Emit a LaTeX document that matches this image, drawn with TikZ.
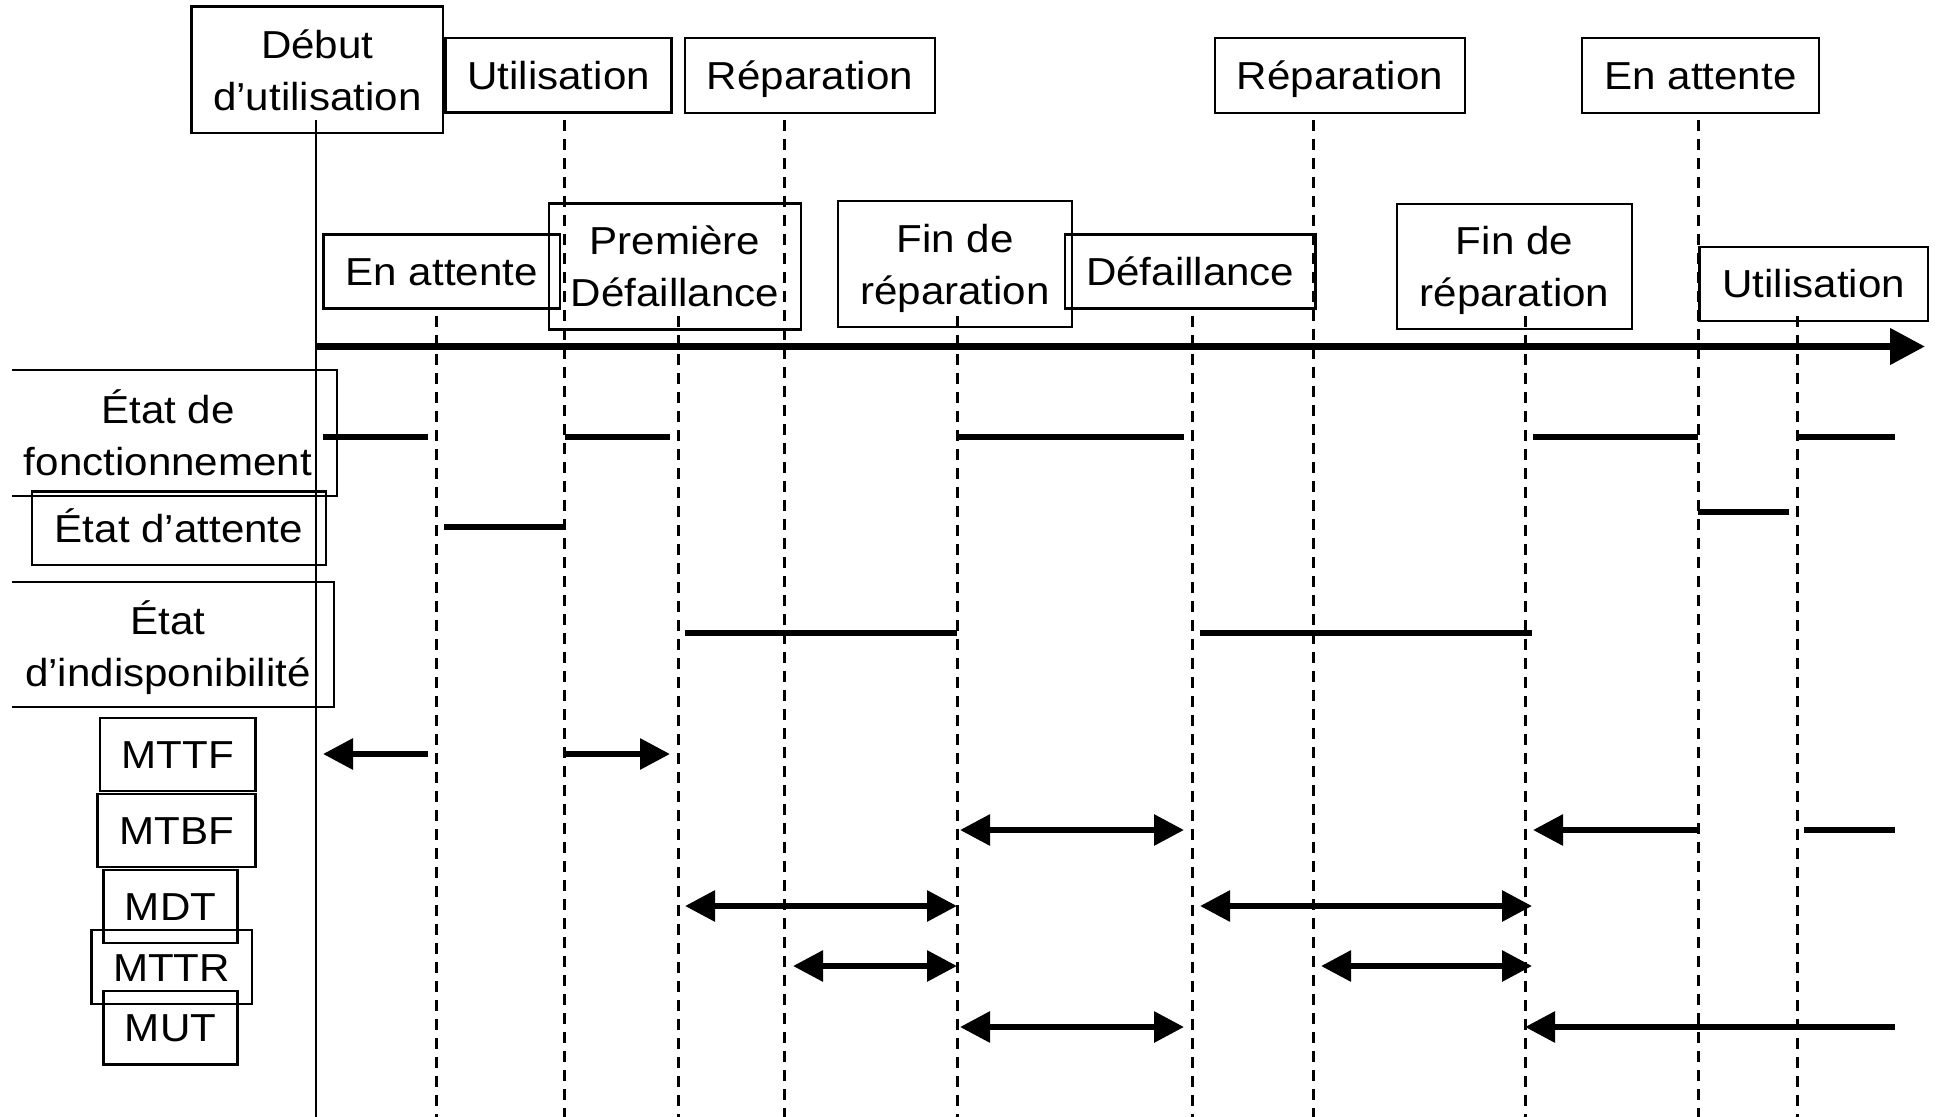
\documentclass[tikz,border=0pt]{standalone}
\usepackage{fontspec}
\setmainfont{Liberation Sans}[FakeStretch=1.08]
\usetikzlibrary{arrows.meta}
\newcommand\lblfont{\fontsize{19.5pt}{26pt}\selectfont}
\begin{document}
\begin{tikzpicture}[x=0.5pt,y=-0.5pt,
  box/.style={draw,line width=1.2pt,inner sep=0pt,align=center,font=\lblfont},
  onebox/.style={box,text height=14pt,text depth=0pt},
  txt/.style={inner sep=0pt,align=center,font=\lblfont},
  dline/.style={line width=1.5pt,dash pattern=on 5.5pt off 4pt},
  sline/.style={line width=1.1pt},
  stateline/.style={line width=3pt},
  dur/.style={line width=3pt},
  axisline/.style={line width=3.75pt,-{Triangle[length=17.5pt,width=17.5pt]}},
  >={Triangle[length=15pt,width=15pt]}]
\useasboundingbox (0,0) rectangle (1936,1117);

% top row of events
\node[box,minimum width=125.9pt,minimum height=63.3pt] (debut) at (317.3,70) {Début\\d’utilisation};
\node[onebox,minimum width=113pt,minimum height=37.2pt] (util1) at (558.6,75.5) {Utilisation};
\node[onebox,minimum width=125pt,minimum height=37.5pt] (rep1) at (810,75.5) {Réparation};
\node[onebox,minimum width=125pt,minimum height=37.5pt] (rep2) at (1340,75.5) {Réparation};
\node[onebox,minimum width=118.5pt,minimum height=37.5pt] (att2) at (1700.5,75.5) {En attente};

% second row of events
\node[onebox,minimum width=118.25pt,minimum height=37pt] (att1) at (441.75,271.5) {En attente};
\node[box,minimum width=126pt,minimum height=63pt] (pdef) at (675,266.5) {Première\\Défaillance};
\node[box,text depth=0pt,minimum width=117pt,minimum height=63pt] (fin1) at (955,264) {Fin de\\réparation};
\node[onebox,minimum width=125.25pt,minimum height=37pt] (def) at (1190.25,271.5) {Défaillance};
\node[box,text depth=0pt,minimum width=117.5pt,minimum height=62.5pt] (fin2) at (1514.5,266.5) {Fin de\\réparation};
\node[onebox,minimum width=114.25pt,minimum height=37pt] (util2) at (1813.75,284) {Utilisation};

% state labels
\node[txt] (fonct) at (168,433) {État de\\fonctionnement};
\draw[line width=1.2pt] (12,370) -- (337,370) -- (337,496) -- (12,496);
\node[onebox,minimum width=147pt,minimum height=36.7pt] (attst) at (179,528.3) {État d’attente};
\node[txt] (indisp) at (168,648) {État\\d’indisponibilité};
\draw[line width=1.2pt] (12,581.7) -- (334,581.7) -- (334,706.7) -- (12,706.7);

% indicator labels
\node[onebox,minimum width=77.8pt,minimum height=36.5pt] (mttf) at (177.8,754.5) {MTTF};
\node[onebox,minimum width=79pt,minimum height=36.5pt] (mtbf) at (176.5,830.5) {MTBF};
\node[onebox,minimum width=67pt,minimum height=36.5pt] (mdt) at (170.6,906.5) {MDT};
\node[onebox,minimum width=80.25pt,minimum height=37pt] (mttr) at (171.6,967) {MTTR};
\node[onebox,minimum width=67pt,minimum height=36.8pt] (mut) at (170.6,1027.5) {MUT};

% time lines
\coordinate (v0s) at (316,120); \coordinate (v0e) at (316,1117);
\draw[sline] (v0s) -- (v0e);
\foreach \n/\x/\y in {vA/436/316, vB/564.5/120, vC/678/316, vD/784/120, vE/957/316,
                      vF/1192.5/316, vG/1313/120, vH/1525.5/316, vI/1698.5/120, vJ/1797.5/316} {
  \coordinate (\n s) at (\x,\y);
  \coordinate (\n e) at (\x,1117);
  \draw[dline] (\n s) -- (\n e);
}

% time axis
\coordinate (axs) at (316,346.5);
\coordinate (axe) at (1925,346.5);
\draw[axisline] (axs) -- (axe);

% states
\draw[stateline] (323,437) -- (428,437);
\draw[stateline] (565,437) -- (670,437);
\draw[stateline] (957,437) -- (1184,437);
\draw[stateline] (1533,437) -- (1698,437);
\draw[stateline] (1797,437) -- (1895,437);
\draw[stateline] (444,527) -- (564,527);
\draw[stateline] (1698,512) -- (1789,512);
\draw[stateline] (685,633) -- (957,633);
\draw[stateline] (1200,633) -- (1532,633);

% durations
\draw[dur,->] (428,754) -- (323,754);
\draw[dur,->] (564,754) -- (670,754);
\draw[dur,<->] (960,830) -- (1184,830);
\draw[dur,->] (1698,830) -- (1533,830);
\draw[dur] (1804,830) -- (1895,830);
\draw[dur,<->] (685,906) -- (957,906);
\draw[dur,<->] (1200,906) -- (1532,906);
\draw[dur,<->] (793,966) -- (957,966);
\draw[dur,<->] (1321,966) -- (1532,966);
\draw[dur,<->] (960,1027) -- (1184,1027);
\draw[dur,->] (1895,1027) -- (1525,1027);
\end{tikzpicture}
\end{document}
